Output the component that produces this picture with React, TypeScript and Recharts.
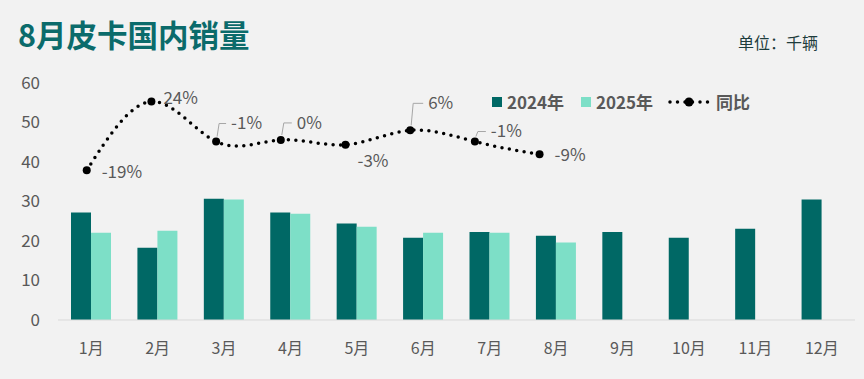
import { ComposedChart, Bar, Line, XAxis, YAxis } from 'recharts'

const months = ['1月', '2月', '3月', '4月', '5月', '6月', '7月', '8月', '9月', '10月', '11月', '12月']
const sales2024 = [27.2, 18.3, 30.7, 27.2, 24.4, 20.8, 22.3, 21.3, 22.3, 20.8, 23.1, 30.5]
const sales2025 = [22.1, 22.6, 30.5, 26.9, 23.6, 22.1, 22.1, 19.6, null, null, null, null]
const yoyPct = [-19, 24, -1, 0, -3, 6, -1, -9, null, null, null, null]
const yTicks = [0, 10, 20, 30, 40, 50, 60]

const data = months.map((m, i) => ({
  month: m,
  idx: i,
  y2024: sales2024[i],
  y2025: sales2025[i],
  yoy: yoyPct[i],
}))

const DARK = '#006865'
const MINT = '#7ddfc7'
const GRAY = '#595959'
const FONT = '"Noto Sans CJK SC", "Noto Sans", sans-serif'

// label placement for each yoy point (dx, dy from the marker; leader = callout line)
const LABEL_POS = [
  { dx: 15, dy: 2, leader: false },
  { dx: 12, dy: -4, leader: false },
  { dx: 15, dy: -18, leader: true },
  { dx: 16, dy: -17, leader: true },
  { dx: 12, dy: 16, leader: false },
  { dx: 18, dy: -27, leader: true },
  { dx: 16, dy: -10, leader: true },
  { dx: 15, dy: 1, leader: false },
]

function YoyLabel(props: any) {
  const { x, y, value, index } = props
  if (value == null || x == null) return null
  const p = LABEL_POS[index] || { dx: 12, dy: 0, leader: false }
  return (
    <g>
      {p.leader && (
        <polyline
          points={`${x + 1},${y - 5} ${x + 3},${y + p.dy} ${x + p.dx - 5},${y + p.dy}`}
          fill="none"
          stroke="#a6a6a6"
          strokeWidth={1}
        />
      )}
      <text
        x={x + p.dx}
        y={y + p.dy}
        dy="0.35em"
        fontSize={17}
        fill={GRAY}
        fontFamily={FONT}
      >
        {`${value}%`}
      </text>
    </g>
  )
}

function MonthTick({ x, y, payload }: any) {
  return (
    <text x={x} y={y + 26} textAnchor="middle" fontSize={16} fill={GRAY} fontFamily={FONT}>
      {payload.value}
    </text>
  )
}

function ValueTick({ x, y, payload }: any) {
  return (
    <text x={x} y={y} dy="0.35em" textAnchor="end" fontSize={17} fill={GRAY} fontFamily={FONT}>
      {payload.value}
    </text>
  )
}

function LegendBox() {
  const txt = { position: 'absolute' as const, top: 91, fontSize: 17, fontWeight: 700, color: GRAY, fontFamily: FONT, lineHeight: '22px' }
  return (
    <>
      <div style={{ position: 'absolute', left: 492, top: 97, width: 10, height: 10, background: DARK }} />
      <div style={{ ...txt, left: 507 }}>2024年</div>
      <div style={{ position: 'absolute', left: 581, top: 97, width: 10, height: 10, background: MINT }} />
      <div style={{ ...txt, left: 596 }}>2025年</div>
      <svg style={{ position: 'absolute', left: 667, top: 96 }} width={44} height={12}>
        <line x1={3} y1={6} x2={41} y2={6} stroke="#000" strokeWidth={3.5} strokeLinecap="round" strokeDasharray="0 7.5" />
        <circle cx={22} cy={6} r={4.5} fill="#000" />
      </svg>
      <div style={{ ...txt, left: 716 }}>同比</div>
    </>
  )
}

export default function App() {
  return (
    <div style={{ position: 'absolute', left: 0, top: 0, width: 864, height: 379, background: '#f2f2f2', overflow: 'hidden' }}>
      <div style={{ position: 'absolute', left: 18, top: 14, fontSize: 30.5, fontWeight: 700, color: '#0b6b6b', fontFamily: FONT, lineHeight: '40px' }}>
        8月皮卡国内销量
      </div>
      <div style={{ position: 'absolute', left: 738, top: 31, fontSize: 16, color: '#1e3c3c', fontFamily: FONT, lineHeight: '22px' }}>
        单位：千辆
      </div>
      <ComposedChart
        width={864}
        height={379}
        data={data}
        margin={{ top: 83, right: 9, bottom: 0, left: 0 }}
        barGap={0}
      >
        <XAxis
          xAxisId="cat"
          dataKey="month"
          height={59}
          axisLine={{ stroke: '#d9d9d9' }}
          tickLine={false}
          tick={<MonthTick />}
          interval={0}
        />
        <XAxis xAxisId="lx" type="number" dataKey="idx" domain={[-0.444, 11.876]} hide />
        <YAxis
          yAxisId="left"
          domain={[0, 60]}
          ticks={yTicks}
          width={58}
          axisLine={false}
          tickLine={false}
          tickMargin={12}
          tick={<ValueTick />}
        />
        <YAxis yAxisId="pct" domain={[-112.6, 35.6]} hide />
        <Bar xAxisId="cat" yAxisId="left" dataKey="y2024" fill={DARK} barSize={20} isAnimationActive={false} />
        <Bar xAxisId="cat" yAxisId="left" dataKey="y2025" fill={MINT} barSize={20} isAnimationActive={false} />
        <Line
          xAxisId="lx"
          yAxisId="pct"
          dataKey="yoy"
          type="natural"
          stroke="#000"
          strokeWidth={3.5}
          strokeLinecap="round"
          strokeDasharray="0 7.5"
          dot={{ r: 4, fill: '#000', stroke: '#000', strokeWidth: 0, strokeDasharray: '' }}
          activeDot={false}
          label={<YoyLabel />}
          isAnimationActive={false}
        />
      </ComposedChart>
      <LegendBox />
    </div>
  )
}
